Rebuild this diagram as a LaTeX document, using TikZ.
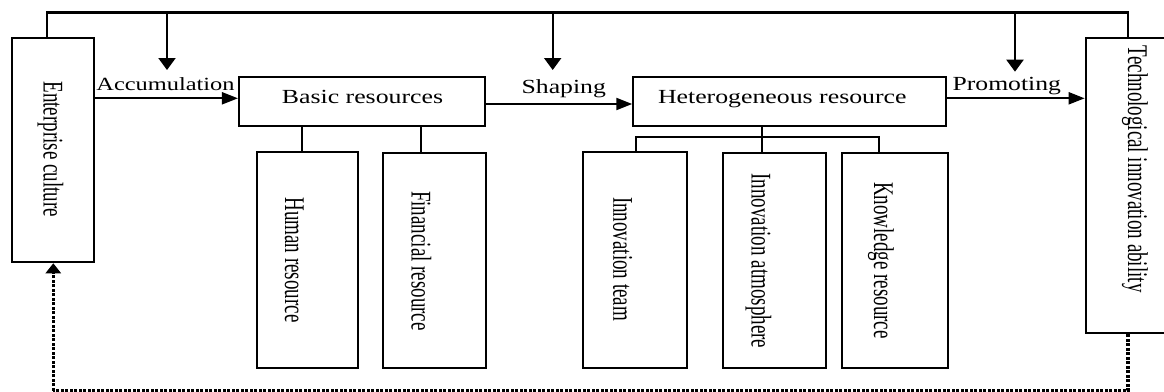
\documentclass[tikz,border=0pt]{standalone}
\usepackage{fontspec}
\setmainfont{Liberation Serif}
\usepackage{graphicx}
\usetikzlibrary{arrows.meta}
\newcommand\htx[3]{\scalebox{#1}[#2]{#3}}
\newcommand\vtx[1]{\rotatebox{-90}{\scalebox{1}[1.5]{\vphantom{Hgl}#1}}}
\begin{document}
\begin{tikzpicture}[x=1pt,y=-1pt,line width=2.1pt,
  box/.style={draw,line width=2.1pt,inner sep=0pt,rectangle},
  hlab/.style={inner sep=0pt,anchor=base,font=\fontsize{20}{24}\selectfont},
  vlab/.style={inner sep=0pt,font=\fontsize{19}{22}\selectfont},
  harr/.style={-{Triangle[length=16pt,width=12pt]}},
  varr/.style={-{Triangle[length=12pt,width=17pt]}},
  fb/.style={dash pattern=on 2.7pt off 1.8pt,line width=3.2pt}]
\useasboundingbox (0,0) rectangle (1164,391);
\clip (0,0) rectangle (1164,391);
% boxes
\node[box,minimum width=81.7pt,minimum height=224pt] (ec) at (53.2,149.7) {};
\node[box,minimum width=246pt,minimum height=49.3pt] (basic) at (362,101.35) {};
\node[box,minimum width=312.4pt,minimum height=49.3pt] (het) at (789.5,101.35) {};
\node[box,minimum width=82pt,minimum height=295.6pt] (tech) at (1126.7,185.5) {};
\node[box,minimum width=101pt,minimum height=215.4pt] (human) at (307.8,260) {};
\node[box,minimum width=103.3pt,minimum height=214.4pt] (fin) at (434.35,260.5) {};
\node[box,minimum width=104pt,minimum height=215.4pt] (team) at (635.3,260) {};
\node[box,minimum width=102.7pt,minimum height=214.4pt] (atm) at (774.65,260.5) {};
\node[box,minimum width=106pt,minimum height=214.4pt] (know) at (894.7,260.5) {};
% box texts
\node[hlab] (basicT) at (362.5,103.3) {\htx{1.29}{1}{Basic resources}};
\node[hlab] (hetT) at (782.3,103.3) {\htx{1.29}{1}{Heterogeneous resource}};
\node[vlab] (ecT) at (50.5,149.2) {\vtx{Enterprise culture}};
\node[vlab] (techT) at (1134.8,169.2) {\vtx{Technological innovation ability}};
\node[vlab] (humanT) at (292,260) {\vtx{Human resource}};
\node[vlab] (finT) at (418.5,260.9) {\vtx{Financial resource}};
\node[vlab] (teamT) at (620.2,259) {\vtx{Innovation team}};
\node[vlab] (atmT) at (758.5,260.9) {\vtx{Innovation atmosphere}};
\node[vlab] (knowT) at (880.9,260.5) {\vtx{Knowledge resource}};
% arrow labels
\node[hlab] (accT) at (165.5,90.7) {\htx{1.22}{0.93}{Accumulation}};
\node[hlab] (shpT) at (563.8,93.3) {\htx{1.286}{1}{Shaping}};
\node[hlab] (proT) at (1006.8,90.7) {\htx{1.282}{1}{Promoting}};
% main arrows
\draw[harr] (ec.east |- 0,98.3) -- (basic.west |- 0,98.3);
\draw[harr] (basic.east |- 0,104) -- (het.west |- 0,104);
\draw[harr] (het.east |- 0,98.3) -- (tech.west |- 0,98.3);
% top loop
\coordinate (tl) at (46.7,12.5);
\coordinate (tr) at (1128,12.5);
\coordinate (d1) at (167,12.5);
\coordinate (d2) at (552.7,12.5);
\coordinate (d3) at (1015,12.5);
\coordinate (e1) at (167,70);
\coordinate (e2) at (552.7,70);
\coordinate (e3) at (1015,71.7);
\draw (ec.north -| tl) -- (tl) -- (tr) -- (tech.north -| tr);
\draw[varr] (d1) -- (e1);
\draw[varr] (d2) -- (e2);
\draw[varr] (d3) -- (e3);
% tree connectors
\draw (basic.south -| 301.7,0) -- (human.north -| 301.7,0);
\draw (basic.south -| 421,0) -- (fin.north -| 421,0);
\coordinate (bl) at (635.7,137.3);
\coordinate (br) at (879.3,137.3);
\draw (het.south -| 761.7,0) -- (atm.north -| 761.7,0);
\draw (team.north -| bl) -- (bl) -- (br) -- (know.north -| br);
% feedback dotted
\coordinate (fr) at (1128,390.5);
\coordinate (fl) at (53.3,390.5);
\draw[fb] (tech.south -| fr) -- (fr) -- (fl);
\draw[fb,-{Triangle[length=10pt,width=15pt]}] (fl) -- ([yshift=-0.5pt]ec.south -| fl);
\end{tikzpicture}
\end{document}
